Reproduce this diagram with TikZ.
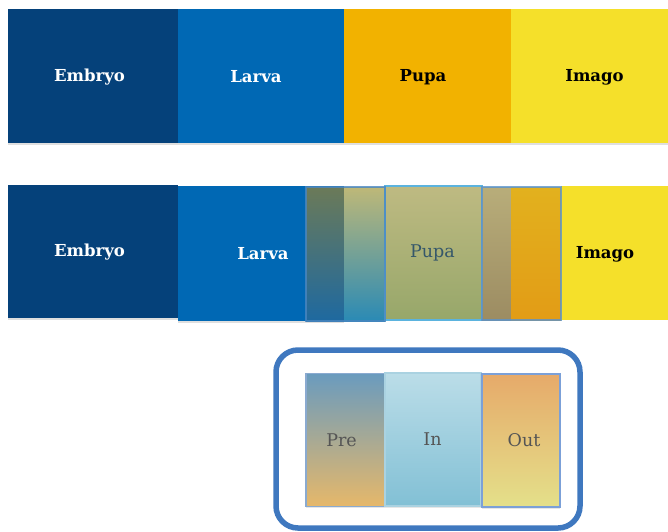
\documentclass[tikz,border=0pt]{standalone}
\usepackage{fontspec}
\setmainfont{DejaVu Serif}
\usetikzlibrary{shadows}
\definecolor{embc}{HTML}{05417A}
\definecolor{larc}{HTML}{0068B4}
\definecolor{pupc}{HTML}{F2B200}
\definecolor{imac}{HTML}{F5E02A}
\definecolor{frameblue}{HTML}{3F78BF}
\definecolor{greytext}{HTML}{555555}
\definecolor{pupatext}{HTML}{35576A}
\tikzset{
  x=1pt, y=-1pt,
  lbl/.style={inner sep=0pt, font=\fontsize{16.5}{18}\selectfont\bfseries},
  lblr/.style={inner sep=0pt, font=\fontsize{17.5}{20}\selectfont},
  stage/.style={rectangle, inner sep=0pt, outer sep=0pt,
    drop shadow={opacity=0.25, shadow xshift=0pt, shadow yshift=-1.5pt}},
  strip/.style={rectangle, inner sep=0pt, outer sep=0pt},
  frameline/.style={rectangle, inner sep=0pt, outer sep=0pt, line width=1.2pt},
  phase/.style={rectangle, inner sep=0pt, outer sep=0pt, line width=1.2pt,
    drop shadow={opacity=0.2, shadow xshift=0pt, shadow yshift=-1.5pt}}
}
\begin{document}
\begin{tikzpicture}
\useasboundingbox (0,0) rectangle (668,531);
% Row 1
\node[stage, fill=embc, minimum width=170pt, minimum height=134pt] (e1) at (93,76) {};
\node[stage, fill=larc, minimum width=166pt, minimum height=134pt] (l1) at (261,76) {};
\node[stage, fill=pupc, minimum width=167pt, minimum height=134pt] (p1) at (427.5,76) {};
\node[stage, fill=imac, minimum width=157pt, minimum height=134pt] (i1) at (589.5,76) {};
\node[lbl, text=white] (e1t) at (89.5,77) {Embryo};
\node[lbl, text=white] (l1t) at (256,77) {Larva};
\node[lbl, text=black] (p1t) at (423,77) {Pupa};
\node[lbl, text=black] (i1t) at (594.5,77) {Imago};
% Row 2 backgrounds
\node[stage, fill=embc, minimum width=170pt, minimum height=133pt] (e2) at (93,251.5) {};
\node[stage, fill=larc, minimum width=166pt, minimum height=135pt] (l2) at (261,253.5) {};
\node[strip, fill=imac, minimum width=107pt, minimum height=134pt] (i2) at (614.5,253) {};
% Row 2 overlay strips
\node[strip, top color={rgb,255:red,107;green,122;blue,88}, middle color={rgb,255:red,56;green,106;blue,120}, bottom color={rgb,255:red,30;green,105;blue,160}, minimum width=38pt, minimum height=134pt] (s1) at (325,254) {};
\node[strip, top color={rgb,255:red,190;green,184;blue,120}, middle color={rgb,255:red,100;green,155;blue,140}, bottom color={rgb,255:red,42;green,138;blue,181}, minimum width=41pt, minimum height=134pt] (s2) at (364.5,254) {};
\node[strip, top color={rgb,255:red,190;green,186;blue,130}, bottom color={rgb,255:red,151;green,167;blue,106}, draw={rgb,255:red,91;green,179;blue,222}, line width=1.5pt, minimum width=97pt, minimum height=134pt] (p2) at (433.5,253) {};
\node[strip, top color={rgb,255:red,184;green,173;blue,122}, bottom color={rgb,255:red,156;green,140;blue,98}, minimum width=29pt, minimum height=133pt] (s4) at (496.5,253.5) {};
\node[strip, top color={rgb,255:red,226;green,177;blue,30}, bottom color={rgb,255:red,226;green,156;blue,22}, minimum width=50pt, minimum height=133pt] (s5) at (536,253.5) {};
\node[frameline, draw={rgb,255:red,74;green,134;blue,192}, draw opacity=0.8, minimum width=79pt, minimum height=134pt] (preframe) at (345.5,254) {};
\node[frameline, draw={rgb,255:red,90;green,147;blue,204}, draw opacity=0.8, minimum width=79pt, minimum height=133pt] (outframe) at (521.5,253.5) {};
\node[lbl, text=white] (e2t) at (89.5,252.5) {Embryo};
\node[lbl, text=white] (l2t) at (263,254) {Larva};
\node[lblr, text=pupatext] (p2t) at (432.5,253) {Pupa};
\node[lbl, text=black] (i2t) at (605,254) {Imago};
% Bottom group
\node[rectangle, draw=frameblue, line width=5.5pt, rounded corners=22pt, minimum width=304pt, minimum height=178pt] (frame) at (428,439) {};
\node[phase, top color={rgb,255:red,106;green,155;blue,190}, middle color={rgb,255:red,150;green,168;blue,128}, bottom color={rgb,255:red,230;green,184;blue,106}, draw={rgb,255:red,138;green,170;blue,208}, minimum width=79pt, minimum height=133pt] (pre) at (345.5,440) {};
\node[phase, top color={rgb,255:red,187;green,221;blue,232}, bottom color={rgb,255:red,130;green,192;blue,213}, draw={rgb,255:red,170;green,210;blue,225}, minimum width=96pt, minimum height=133pt] (in) at (433,439.5) {};
\node[phase, top color={rgb,255:red,230;green,170;blue,106}, bottom color={rgb,255:red,228;green,224;blue,138}, draw={rgb,255:red,123;green,160;blue,216}, minimum width=78pt, minimum height=133pt] (out) at (521,440.5) {};
\node[lblr, text=greytext] (pret) at (341.5,440) {Pre};
\node[lblr, text=greytext] (int) at (432.5,439) {In};
\node[lblr, text=greytext] (outt) at (524,440) {Out};
\end{tikzpicture}
\end{document}
